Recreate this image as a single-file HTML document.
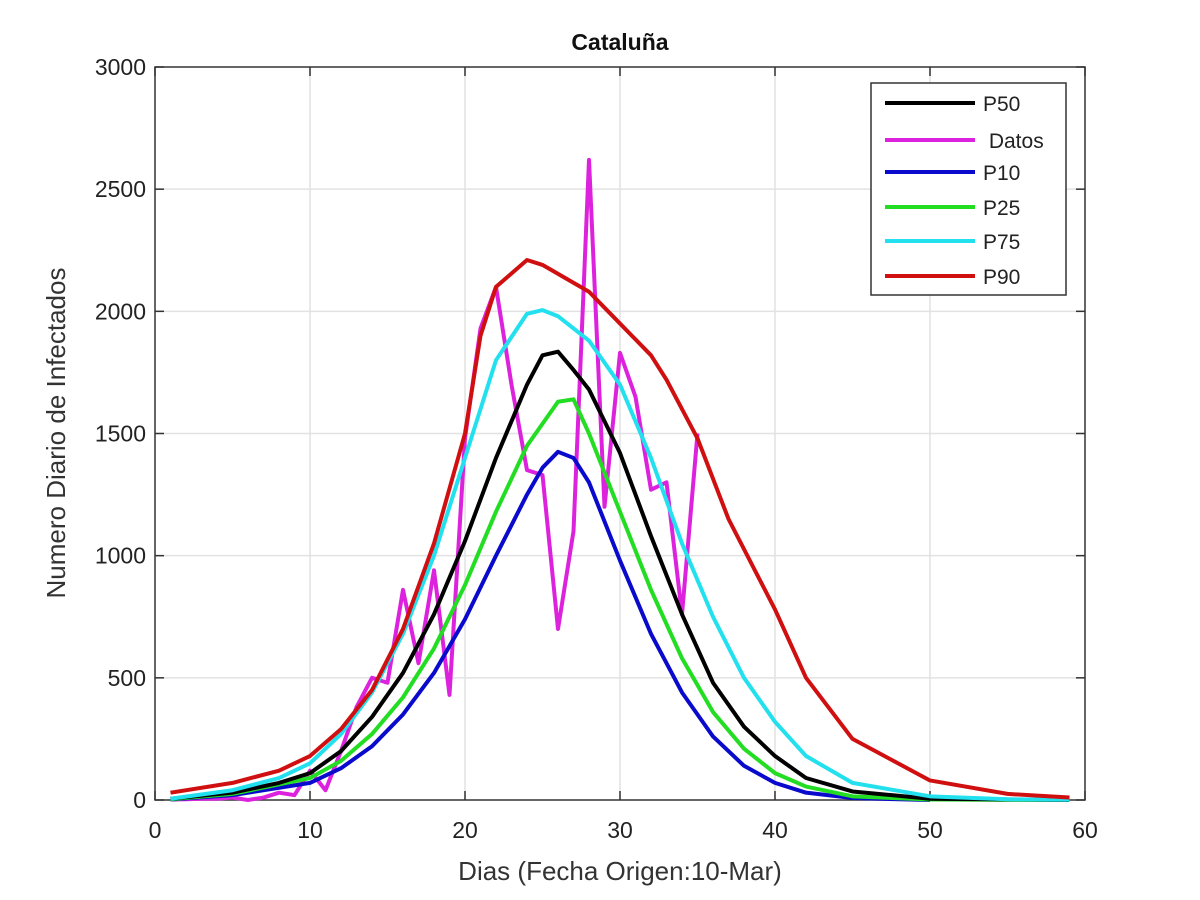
<!DOCTYPE html>
<html><head><meta charset="utf-8"><style>
body{margin:0;background:#fff;}
svg{display:block;font-family:"Liberation Sans",sans-serif;}
</style></head><body>
<svg id="s" width="1200" height="900" viewBox="0 0 1200 900" xmlns="http://www.w3.org/2000/svg"></svg>
<script>
const X0=155,X1=1085,Y0=800,Y1=67;
const sx=d=>X0+(X1-X0)*d/60, sy=v=>Y0-(Y0-Y1)*v/3000;
let h='<rect width="1200" height="900" fill="#fff"/>';
for(let d=10;d<60;d+=10)h+=`<line x1="${sx(d)}" y1="${Y1}" x2="${sx(d)}" y2="${Y0}" stroke="#e2e2e2" stroke-width="1.5"/>`;
for(let v=500;v<3000;v+=500)h+=`<line x1="${X0}" y1="${sy(v)}" x2="${X1}" y2="${sy(v)}" stroke="#e2e2e2" stroke-width="1.5"/>`;
h+=`<rect x="${X0}" y="${Y1}" width="${X1-X0}" height="${Y0-Y1}" fill="none" stroke="#333" stroke-width="1.5"/>`;
for(let d=0;d<=60;d+=10){h+=`<line x1="${sx(d)}" y1="${Y0}" x2="${sx(d)}" y2="${Y0-9}" stroke="#333" stroke-width="1.5"/><line x1="${sx(d)}" y1="${Y1}" x2="${sx(d)}" y2="${Y1+9}" stroke="#333" stroke-width="1.5"/><text x="${sx(d)}" y="838" font-size="23" text-anchor="middle" fill="#222">${d}</text>`;}
for(let v=0;v<=3000;v+=500){h+=`<line x1="${X0}" y1="${sy(v)}" x2="${X0+9}" y2="${sy(v)}" stroke="#333" stroke-width="1.5"/><line x1="${X1}" y1="${sy(v)}" x2="${X1-9}" y2="${sy(v)}" stroke="#333" stroke-width="1.5"/><text x="146" y="${sy(v)+8}" font-size="23" text-anchor="end" fill="#222">${v}</text>`;}
const S={
red:[[1,30],[5,70],[8,120],[10,180],[12,290],[14,450],[16,700],[18,1050],[20,1500],[21,1900],[22,2100],[24,2210],[25,2190],[28,2080],[30,1950],[32,1820],[33,1720],[35,1480],[37,1150],[40,780],[42,500],[45,250],[50,80],[55,25],[59,10]],
"#22e0ee":[[1,5],[5,40],[8,90],[10,150],[12,270],[14,440],[16,680],[18,1000],[20,1400],[22,1800],[24,1990],[25,2005],[26,1980],[28,1880],[30,1700],[32,1400],[34,1050],[36,750],[38,500],[40,320],[42,180],[45,70],[50,15],[55,3],[59,1]],
"#000":[[1,5],[5,30],[8,70],[10,110],[12,200],[14,340],[16,520],[18,760],[20,1060],[22,1400],[24,1700],[25,1820],[26,1835],[27,1760],[28,1680],[30,1420],[32,1080],[34,760],[36,480],[38,300],[40,180],[42,90],[45,35],[50,5],[59,0]],
"#22dd22":[[1,3],[5,25],[10,90],[12,160],[14,270],[16,420],[18,620],[20,880],[22,1180],[24,1450],[26,1630],[27,1640],[28,1500],[30,1180],[32,860],[34,580],[36,360],[38,210],[40,110],[42,55],[45,15],[50,2],[59,0]],
"#0a0acc":[[1,2],[5,20],[10,70],[12,130],[14,220],[16,350],[18,520],[20,740],[22,1000],[24,1250],[25,1360],[26,1425],[27,1400],[28,1300],[30,980],[32,680],[34,440],[36,260],[38,140],[40,70],[42,30],[45,8],[50,0]],
"#dd22dd":[[1,2],[2,3],[3,5],[4,5],[5,10],[6,0],[7,10],[8,30],[9,20],[10,120],[11,40],[12,200],[13,380],[14,500],[15,480],[16,860],[17,560],[18,940],[19,430],[20,1480],[21,1930],[22,2100],[23,1700],[24,1350],[25,1330],[26,700],[27,1100],[28,2620],[29,1200],[30,1830],[31,1650],[32,1270],[33,1300],[34,760],[35,1500]]
};
const order=["#dd22dd","#0a0acc","#22dd22","#000","#22e0ee","red"];
for(const c of order){const col=c=="red"?"#d01010":c;h+=`<polyline fill="none" stroke="${col}" stroke-width="4" stroke-linejoin="round" points="${S[c].map(p=>sx(p[0])+','+sy(p[1])).join(' ')}"/>`;}
h+=`<rect x="871" y="83" width="195" height="212" fill="#fff" stroke="#333" stroke-width="1.5"/>`;
const L=[["#000","P50"],["#dd22dd"," Datos"],["#0a0acc","P10"],["#22dd22","P25"],["#22e0ee","P75"],["#d01010","P90"]];
const ys=[103,140,172,207,241,276];
L.forEach((l,i)=>{h+=`<line x1="885" y1="${ys[i]}" x2="975" y2="${ys[i]}" stroke="${l[0]}" stroke-width="4"/><text x="983" y="${ys[i]+8}" font-size="21" fill="#222" xml:space="preserve">${l[1]}</text>`;});
h+=`<text x="620" y="50" font-size="23" font-weight="bold" text-anchor="middle" fill="#111">Cataluña</text>`;
h+=`<text x="620" y="880" font-size="26" text-anchor="middle" fill="#333">Dias (Fecha Origen:10-Mar)</text>`;
h+=`<text transform="translate(65,433) rotate(-90)" font-size="26" text-anchor="middle" fill="#333">Numero Diario de Infectados</text>`;
document.getElementById('s').innerHTML=h;
</script>
</body></html>
